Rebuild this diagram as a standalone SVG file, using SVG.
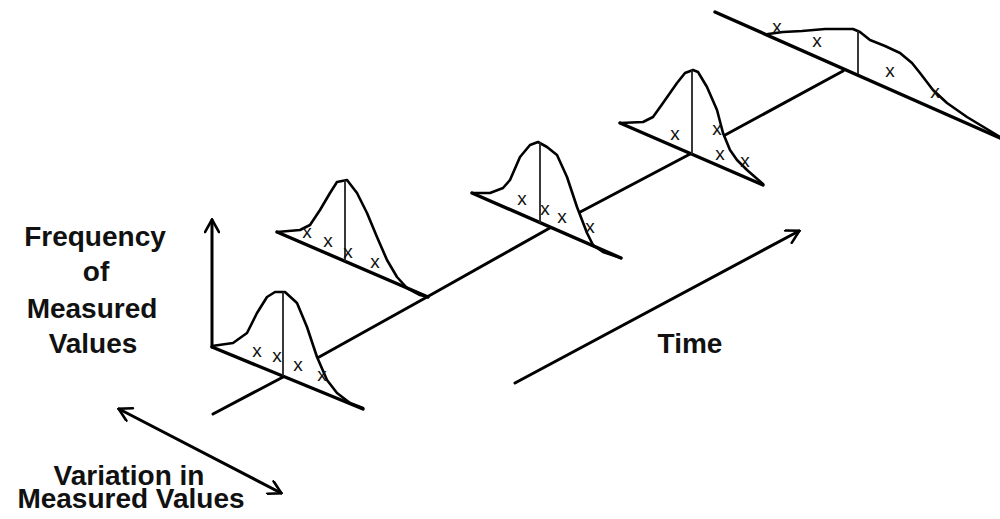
<svg xmlns="http://www.w3.org/2000/svg" width="1000" height="519" viewBox="0 0 1000 519">
<style>
.lbl{font-family:"Liberation Sans",Arial,sans-serif;font-weight:bold;font-size:28px;fill:#111;text-anchor:middle}
.xm{font-family:"Liberation Sans",Arial,sans-serif;font-size:19px;fill:#111;text-anchor:middle}
.axis{fill:none;stroke:#000;stroke-width:3;stroke-linecap:round;stroke-linejoin:round}
.arr{fill:none;stroke:#000;stroke-width:3;stroke-linecap:round}
.area{fill:#fff;stroke:none}
.curve{fill:none;stroke:#000;stroke-width:2.6;stroke-linejoin:round;stroke-linecap:round}
.base{fill:none;stroke:#000;stroke-width:3.4;stroke-linecap:round}
.vert{fill:none;stroke:#222;stroke-width:1.8}
</style>
<defs>
<marker id="chev" markerUnits="userSpaceOnUse" viewBox="0 0 16 16" markerWidth="16" markerHeight="16" refX="14" refY="8" orient="auto-start-reverse">
<path d="M2,1 L14.5,8 L2,15" fill="none" stroke="#000" stroke-width="2.6" stroke-linecap="round" stroke-linejoin="miter"/>
</marker>
</defs>

<g id="connectors">
<polyline id="time-axis-line" class="axis" points="213,414 285,376 427,297 548,229 692,153 843,71"/>
<line id="freq-arrow" class="arr" x1="212" y1="347" x2="212" y2="220" marker-end="url(#chev)"/>
<line id="time-arrow" class="arr" x1="515" y1="383" x2="799" y2="231" marker-end="url(#chev)"/>
<line id="var-arrow" class="arr" x1="119" y1="409" x2="281" y2="493" marker-start="url(#chev)" marker-end="url(#chev)"/>
</g>

<g id="dist1">
<polygon class="area" points="212,346 233,343 247,333 257,313 267,297 275,292 285,292 297,303 307,327 317,357 327,380 337,393 350,403 363,408"/>
<polyline class="curve" points="212,346 233,343 247,333 257,313 267,297 275,292 285,292 297,303 307,327 317,357 327,380 337,393 350,403 363,408"/>
<line class="base" x1="212" y1="347" x2="363" y2="409"/>
<line class="vert" x1="283" y1="292" x2="283" y2="376"/>
<text class="xm" x="257" y="357">x</text>
<text class="xm" x="277" y="362">x</text>
<text class="xm" x="298" y="371">x</text>
<text class="xm" x="322" y="381">x</text>
</g>

<g id="dist2">
<polygon class="area" points="277,232 300,230 310,225 320,210 330,193 337,182 347,180 357,193 367,213 377,237 387,260 397,277 407,288 420,295 428,297"/>
<polyline class="curve" points="277,232 300,230 310,225 320,210 330,193 337,182 347,180 357,193 367,213 377,237 387,260 397,277 407,288 420,295 428,297"/>
<line class="base" x1="277" y1="232" x2="428" y2="297"/>
<line class="vert" x1="345" y1="180" x2="345" y2="261"/>
<text class="xm" x="307" y="238">x</text>
<text class="xm" x="328" y="247">x</text>
<text class="xm" x="348" y="258">x</text>
<text class="xm" x="375" y="268">x</text>
</g>

<g id="dist3">
<polygon class="area" points="472,193 490,193 503,188 510,180 520,157 530,145 538,142 547,147 557,155 567,177 577,207 587,233 593,245 603,252 621,258"/>
<polyline class="curve" points="472,193 490,193 503,188 510,180 520,157 530,145 538,142 547,147 557,155 567,177 577,207 587,233 593,245 603,252 621,258"/>
<line class="base" x1="472" y1="193" x2="621" y2="258"/>
<line class="vert" x1="540" y1="142" x2="540" y2="223"/>
<text class="xm" x="522" y="205">x</text>
<text class="xm" x="545" y="215">x</text>
<text class="xm" x="562" y="223">x</text>
<text class="xm" x="590" y="233">x</text>
</g>

<g id="dist4">
<polygon class="area" points="620,123 643,122 653,117 663,103 677,83 685,73 693,70 698,72 707,87 717,110 723,133 730,150 737,160 747,170 763,184"/>
<polyline class="curve" points="620,123 643,122 653,117 663,103 677,83 685,73 693,70 698,72 707,87 717,110 723,133 730,150 737,160 747,170 763,184"/>
<line class="base" x1="620" y1="123" x2="763" y2="185"/>
<line class="vert" x1="692" y1="70" x2="692" y2="154"/>
<text class="xm" x="675" y="140">x</text>
<text class="xm" x="717" y="135">x</text>
<text class="xm" x="720" y="160">x</text>
<text class="xm" x="745" y="167">x</text>
</g>

<g id="dist5">
<polygon class="area" points="768,34 783,32 802,31 825,29 853,29 860,32 870,40 885,46 900,53 912,63 920,73 933,90 947,103 967,117 1000,137"/>
<polyline class="curve" points="768,34 783,32 802,31 825,29 853,29 860,32 870,40 885,46 900,53 912,63 920,73 933,90 947,103 967,117 1000,137"/>
<line class="base" x1="715" y1="12" x2="1000" y2="138"/>
<line class="vert" x1="858" y1="31" x2="858" y2="74"/>
<text class="xm" x="777" y="33">x</text>
<text class="xm" x="817" y="47">x</text>
<text class="xm" x="890" y="77">x</text>
<text class="xm" x="935" y="98">x</text>
</g>

<g id="labels">
<text class="lbl" x="95" y="246">Frequency</text>
<text class="lbl" x="96" y="281">of</text>
<text class="lbl" x="92" y="318">Measured</text>
<text class="lbl" x="93" y="353">Values</text>
<text class="lbl" x="690" y="353">Time</text>
<text class="lbl" x="129" y="485">Variation in</text>
<text class="lbl" x="131" y="508">Measured Values</text>
</g>
</svg>
